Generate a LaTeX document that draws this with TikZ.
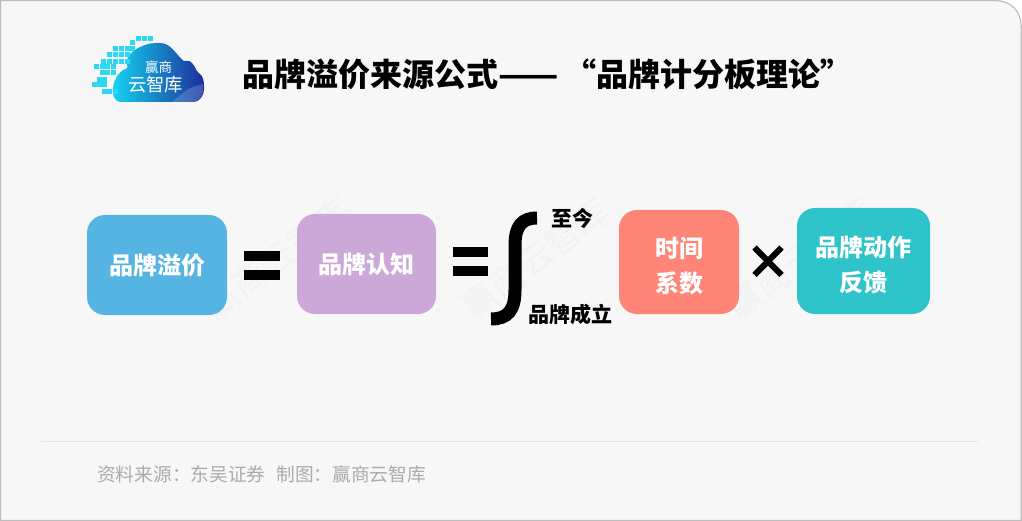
\documentclass[tikz,border=0pt]{standalone}
\usepackage{fontspec}
\usepackage{graphicx}
\setmainfont{Noto Sans CJK SC}
\newfontfamily\cjk{Noto Sans CJK SC}
\definecolor{pagebg}{HTML}{F7F7F7}
\definecolor{pageline}{HTML}{BDBDBD}
\definecolor{brandblue}{HTML}{56B4E3}
\definecolor{brandpurple}{HTML}{CBA8D8}
\definecolor{brandred}{HTML}{FF8578}
\definecolor{brandteal}{HTML}{2EC4C9}
\definecolor{logocyan}{HTML}{14D4F0}
\definecolor{logomid}{HTML}{1E78D2}
\definecolor{logoblue}{HTML}{1C2F9C}
\newcommand{\firstline}{\rule{0pt}{28pt}}
\begin{document}
\begin{tikzpicture}[
x=1pt,y=-1pt,
termbox/.style={rounded corners=18,anchor=center,align=center,text=white,font=\cjk\bfseries\fontsize{24}{35}\selectfont,inner sep=0},
limit/.style={anchor=center,font=\cjk\bfseries\fontsize{21}{21}\selectfont,inner sep=0},
bar/.style={fill=black},
mark line/.style={line width=6,black},
watermark/.style={rotate=37,anchor=center,text=black!5,font=\cjk\fontsize{35}{35}\selectfont,inner sep=0},
pixel/.style={fill=logocyan!90!white},
]
\useasboundingbox(0,0)rectangle(1022,521);
%page
\fill[white](0,0)rectangle(1022,521);
\draw[pageline,fill=pagebg,line width=1.2](0.6,0.6)--(995,0.6)..controls(1011,0.6)and(1021.2,11)..(1021.2,27)--(1021.2,520.4)--(0.6,520.4)--cycle;

%watermark
\node[watermark](mark1)at(277,258){赢商云智库};
\node[watermark](mark2)at(535,258){赢商云智库};
\node[watermark](mark3)at(800,258){赢商云智库};

%logo
\shade[left color=logocyan,middle color=logomid,right color=logoblue,rounded corners=2]
(122,102)to[out=180,in=260](113,88)to[out=80,in=200](128,68)to[out=110,in=180](158,43)
to[out=0,in=140](185,62)to[out=30,in=110](197,72)to[out=-30,in=90](204,88)to[out=-90,in=0](192,102)--cycle;
\fill[white,opacity=0.18](172,102)to[out=40,in=190](203,84)to[out=-80,in=0](192,102)--cycle;
\foreach \px/\py in {138/39,144/39,150/39,132/43,115/49,121/49,127/49,132/49,109/55,115/55,121/55,127/55,103/62,109/62,115/62,121/62,127/62,96/67,102/67,107/67,113/67,102/73,107/73,113/73,99/80,104/80,94/85,99/85,104/85,104/92,109/92,115/92}
\fill[pixel](\px-2.5,\py-2.5)rectangle(\px+2.5,\py+2.5);
\node[anchor=center,text=white,inner sep=0,font=\cjk\fontsize{13.5}{13.5}\selectfont](logotop)at(158.5,67){赢商};
\node[anchor=center,text=white,inner sep=0,font=\cjk\fontsize{18.3}{18.3}\selectfont](logobottom)at(155.5,85){云智库};

%title
\node[anchor=west,inner sep=0,font=\cjk\bfseries\fontsize{32}{32}\selectfont](title)at(242,74){品牌溢价来源公式\scalebox{1.1}[1]{——}\hspace{6pt}“品牌计分板理论”};

%terms
\node[termbox,fill=brandblue,minimum width=140,minimum height=100](premium)at(157,265){品牌溢价};
\node[termbox,fill=brandpurple,minimum width=139,minimum height=100](cognition)at(366.5,264){品牌认知};
\node[termbox,fill=brandred,minimum width=120,minimum height=104](timefactor)at(679,262){\firstline 时间\\系数};
\node[termbox,fill=brandteal,minimum width=133,minimum height=106](feedback)at(863.5,261){\firstline 品牌动作\\反馈};

%operators
\fill[bar](244,251)rectangle(280,261);
\fill[bar](244,270)rectangle(280,280);
\fill[bar](453,247)rectangle(488,257);
\fill[bar](453,266)rectangle(488,276);
\draw[line width=13](537,218)..controls(522,218)and(515,226)..(515,245)--(515,290)..controls(515,310)and(508,319)..(491,319);
\draw[mark line](754.5,247.5)--(781.5,275);
\draw[mark line](781.5,247.5)--(754.5,275);

%limits
\node[limit](upper)at(572,218){至今};
\node[limit](lower)at(570,314){品牌成立};

%source
\draw[black!10](41,441)--(978,441);
\node[anchor=west,inner sep=0,text=black!33,font=\cjk\fontsize{18.7}{18.7}\selectfont](source)at(97,474){资料来源：东吴证券\hspace{11pt}制图：赢商云智库};
\end{tikzpicture}
\end{document}
